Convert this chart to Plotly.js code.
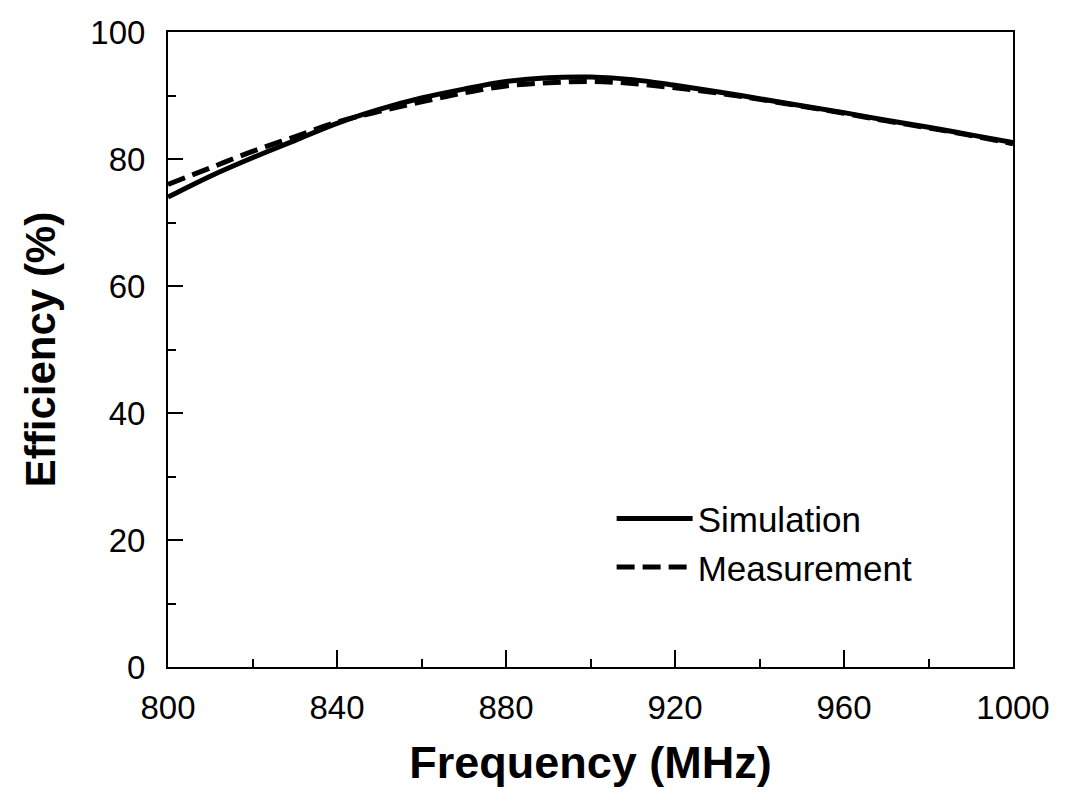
<!DOCTYPE html>
<html>
<head>
<meta charset="utf-8">
<script src="https://cdn.plot.ly/plotly-3.0.1.min.js"></script>
<style>html,body{margin:0;padding:0;background:#fff;}#chart{width:1084px;height:792px;}</style>
</head>
<body>
<div id="chart"></div>
<script>
const frequency = [800, 810, 820, 830, 840, 850, 860, 870, 880, 890, 900, 910, 920, 930, 940, 950, 960, 970, 980, 990, 1000];
const simulation = [74.0, 77.3, 80.2, 82.9, 85.6, 87.8, 89.6, 91.0, 92.2, 92.8, 92.9, 92.5, 91.6, 90.6, 89.5, 88.4, 87.3, 86.1, 85.0, 83.8, 82.6];
const measurement = [76.0, 78.6, 81.2, 83.5, 85.8, 87.5, 89.0, 90.4, 91.5, 92.0, 92.2, 91.9, 91.2, 90.4, 89.4, 88.3, 87.2, 86.0, 84.9, 83.7, 82.4];
const xTicks = [800, 840, 880, 920, 960, 1000];
const yTicks = [0, 20, 40, 60, 80, 100];

const font = 'Liberation Sans, Arial, sans-serif';
const traces = [
  {x: frequency, y: simulation, mode: 'lines', name: 'Simulation', line: {color: '#000', width: 5, shape: 'spline'}},
  {x: frequency, y: measurement, mode: 'lines', name: 'Measurement', line: {color: '#000', width: 5, dash: '18px,8px', shape: 'spline'}}
];
const layout = {
  width: 1084, height: 792,
  margin: {l: 168, r: 71, t: 32, b: 125},
  paper_bgcolor: '#fff', plot_bgcolor: '#fff',
  font: {family: font, color: '#000', size: 33},
  showlegend: true,
  legend: {x: 0.525, y: 0.28, xanchor: 'left', yanchor: 'top', bgcolor: 'rgba(0,0,0,0)', font: {size: 35, family: font}, itemwidth: 76, tracegroupgap: 0},
  xaxis: {
    range: [800, 1000], tickvals: xTicks, ticktext: xTicks.map(String),
    ticks: 'inside', ticklen: 17, tickwidth: 2, tickcolor: '#000',
    showline: true, linecolor: '#000', linewidth: 2, mirror: true,
    showgrid: false, zeroline: false,
    tickfont: {size: 33, family: font}, ticklabelstandoff: 10,
    minor: {dtick: 20, tick0: 800, ticks: 'inside', ticklen: 8, tickwidth: 2, tickcolor: '#000', showgrid: false},
    title: {text: '<b>Frequency (MHz)</b>', font: {size: 45, family: font}, standoff: 22}
  },
  yaxis: {
    range: [0, 100], tickvals: yTicks, ticktext: yTicks.map(String),
    ticks: 'inside', ticklen: 15, tickwidth: 2, tickcolor: '#000',
    showline: true, linecolor: '#000', linewidth: 2, mirror: true,
    showgrid: false, zeroline: false,
    tickfont: {size: 33, family: font}, ticklabelstandoff: 14,
    minor: {dtick: 10, tick0: 0, ticks: 'inside', ticklen: 8, tickwidth: 2, tickcolor: '#000', showgrid: false},
    title: {text: '<b>Efficiency (%)</b>', font: {size: 42, family: font}, standoff: 22}
  }
};
Plotly.newPlot('chart', traces, layout, {displayModeBar: false, staticPlot: true});
</script>
</body>
</html>
